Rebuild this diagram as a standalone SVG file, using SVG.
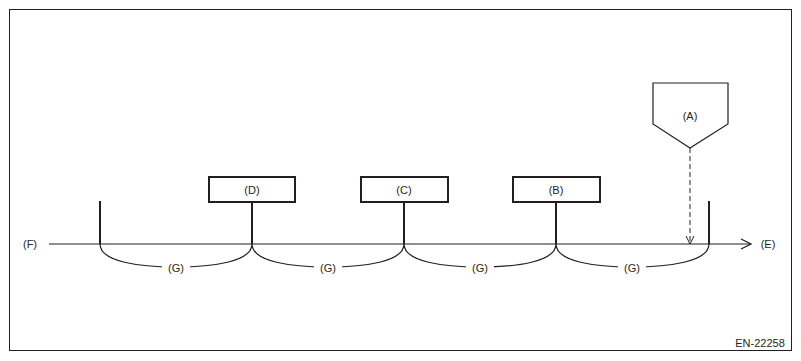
<svg xmlns="http://www.w3.org/2000/svg" width="801" height="361" viewBox="0 0 801 361">
<style>
text{font-family:"Liberation Sans",Arial,sans-serif;font-size:11px;fill:#231f20;text-anchor:middle}
.ln{stroke:#231f20;fill:none}
.box{stroke:#231f20;stroke-width:2;fill:#fff}
.lbl{fill:#fff;stroke:none}
</style>
<defs>
<marker id="open" markerWidth="12" markerHeight="12" refX="11" refY="6" orient="auto" markerUnits="userSpaceOnUse">
<path d="M1,1 L11,6 L1,11" fill="none" stroke="#231f20" stroke-width="1.2"/>
</marker>
<marker id="openS" markerWidth="10" markerHeight="10" refX="9" refY="5" orient="auto" markerUnits="userSpaceOnUse">
<path d="M1,1 L9,5 L1,9" fill="none" stroke="#231f20" stroke-width="1"/>
</marker>
</defs>
<rect x="9.5" y="9.5" width="782" height="341" fill="#fff" stroke="#231f20" stroke-width="1"/>
<g id="connectors">
<line class="ln" x1="49" y1="244" x2="751" y2="244" stroke-width="1.2" marker-end="url(#open)"/>
<line class="ln" x1="100" y1="201" x2="100" y2="244" stroke-width="2"/>
<line class="ln" x1="709" y1="201" x2="709" y2="244" stroke-width="2"/>
<line class="ln" x1="252" y1="202" x2="252" y2="244" stroke-width="2"/>
<line class="ln" x1="404" y1="202" x2="404" y2="244" stroke-width="2"/>
<line class="ln" x1="556" y1="202" x2="556" y2="244" stroke-width="2"/>
<path class="ln" stroke-width="1.2" d="M100,244 C100,262 140,267 176,267 C212,267 252,262 252,244 C252,262 292,267 328,267 C364,267 404,262 404,244 C404,262 444,267 480,267 C516,267 556,262 556,244 C556,262 596,267 632,267 C668,267 709,262 709,244"/>
<line class="ln" x1="690" y1="148" x2="690" y2="244" stroke-width="1" stroke-dasharray="5,3" marker-end="url(#openS)"/>
</g>
<g id="G1"><rect class="lbl" x="162" y="261" width="28" height="13"/><text x="176" y="272">(G)</text></g>
<g id="G2"><rect class="lbl" x="314" y="261" width="28" height="13"/><text x="328" y="272">(G)</text></g>
<g id="G3"><rect class="lbl" x="466" y="261" width="28" height="13"/><text x="480" y="272">(G)</text></g>
<g id="G4"><rect class="lbl" x="618" y="261" width="28" height="13"/><text x="632" y="272">(G)</text></g>
<g id="D"><rect class="box" x="209" y="177" width="86" height="25"/><text x="252" y="194">(D)</text></g>
<g id="C"><rect class="box" x="361" y="177" width="87" height="25"/><text x="404" y="194">(C)</text></g>
<g id="B"><rect class="box" x="513" y="177" width="87" height="25"/><text x="556" y="194">(B)</text></g>
<g id="A"><path d="M653,83 L728,83 L728,124 L690,148 L653,124 Z" fill="#fff" stroke="#231f20" stroke-width="1.2"/><text x="690" y="120">(A)</text></g>
<g id="F"><text x="30" y="248">(F)</text></g>
<g id="E"><text x="768" y="248">(E)</text></g>
<text x="760" y="347">EN-22258</text>
</svg>
